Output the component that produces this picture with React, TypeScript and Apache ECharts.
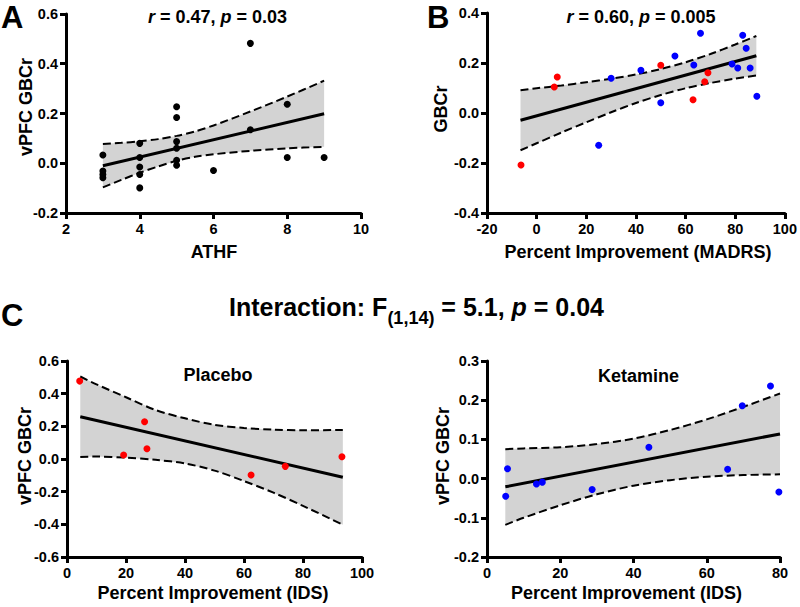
import React, { useEffect, useRef } from "react";
import * as echarts from "echarts";

// ---------- Data ----------
// Panel A: ATHF vs vPFC GBCr
const A_X = [3, 3, 3, 3, 4, 4, 4, 4, 4, 5, 5, 5, 5, 5, 5, 6, 7, 7, 8, 8, 9];
const A_Y = [0.033, -0.031, -0.045, -0.058, 0.08, 0.023, -0.015, -0.045, -0.099, 0.227, 0.184, 0.087, 0.06, 0.012, -0.008, -0.029, 0.482, 0.135, 0.237, 0.023, 0.023];
const A_FIT_X = [3, 9];
const A_FIT_Y = [-0.01, 0.199];
const A_BAND_X = [3, 3.5, 4, 4.5, 5, 5.5, 6, 7, 8, 9];
const A_BAND_HI = [0.077, 0.082, 0.088, 0.097, 0.11, 0.128, 0.152, 0.208, 0.268, 0.332];
const A_BAND_LO = [-0.097, -0.067, -0.038, -0.013, 0.01, 0.026, 0.036, 0.05, 0.06, 0.066];

// Panel B: Percent Improvement (MADRS) vs GBCr
const B_RED_X = [-6.3, 7.1, 8.3, 50, 63, 67.7, 69];
const B_RED_Y = [-0.208, 0.104, 0.144, 0.191, 0.053, 0.125, 0.161];
const B_BLUE_X = [25, 30, 42, 50, 55.7, 63.3, 66, 78.7, 81, 83, 84.4, 86, 88.7];
const B_BLUE_Y = [-0.129, 0.139, 0.171, 0.041, 0.228, 0.192, 0.319, 0.196, 0.18, 0.311, 0.259, 0.18, 0.067];
const B_FIT_X = [-6.5, 88.5];
const B_FIT_Y = [-0.029, 0.229];
const B_BAND_X = [-6.5, 0, 10, 20, 30, 40, 50, 60, 70, 80, 88.5];
const B_BAND_HI = [0.091, 0.099, 0.11, 0.123, 0.137, 0.154, 0.176, 0.203, 0.236, 0.274, 0.308];
const B_BAND_LO = [-0.149, -0.121, -0.078, -0.037, 0.003, 0.04, 0.072, 0.099, 0.12, 0.138, 0.15];

// Panel C left: Placebo
const P_X = [4.3, 19.2, 26.3, 27.1, 62.4, 74, 93.2];
const P_Y = [0.477, 0.024, 0.228, 0.063, -0.098, -0.045, 0.014];
const P_FIT_X = [4.5, 93.5];
const P_FIT_Y = [0.259, -0.112];
const P_BAND_X = [4.5, 10, 20, 30, 40, 50, 60, 70, 80, 93.5];
const P_BAND_HI = [0.505, 0.457, 0.378, 0.3, 0.249, 0.209, 0.19, 0.18, 0.176, 0.178];
const P_BAND_LO = [0.013, 0.015, 0.008, -0.005, -0.027, -0.071, -0.135, -0.206, -0.287, -0.402];

// Panel C right: Ketamine
const K_X = [5.1, 5.6, 13.5, 15.1, 28.7, 44.2, 65.7, 69.7, 77.4, 79.7];
const K_Y = [-0.045, 0.025, -0.014, -0.009, -0.028, 0.08, 0.024, 0.186, 0.236, -0.034];
const K_FIT_X = [5, 80];
const K_FIT_Y = [-0.021, 0.114];
const K_BAND_X = [5, 10, 20, 30, 40, 50, 60, 70, 80];
const K_BAND_HI = [0.075, 0.077, 0.08, 0.088, 0.102, 0.124, 0.151, 0.183, 0.217];
const K_BAND_LO = [-0.118, -0.1, -0.068, -0.04, -0.018, -0.004, 0.005, 0.009, 0.011];

// Axis ranges [min, max, interval]
const A_XR = [2, 10, 2];
const A_YR = [-0.2, 0.6, 0.2];
const B_XR = [-20, 100, 20];
const B_YR = [-0.4, 0.4, 0.2];
const P_XR = [0, 100, 20];
const P_YR = [-0.6, 0.6, 0.2];
const K_XR = [0, 80, 20];
const K_YR = [-0.2, 0.3, 0.1];

const FONT = '"Liberation Sans", Arial, Helvetica, sans-serif';
const RED = "#ff0000";
const BLUE = "#0000ff";
const BAND = "#d3d3d3";
const TICK_FONT = 14.5;

const zip = (xs: number[], ys: number[]) => xs.map((x, i) => [x, ys[i]]);

function mkX(g: number, r: number[]) {
  return {
    gridIndex: g, type: "value", min: r[0], max: r[1], interval: r[2],
    axisLine: { onZero: false, lineStyle: { color: "#000", width: 3 } },
    axisTick: { length: 6, lineStyle: { color: "#000", width: 3 } },
    axisLabel: { color: "#000", fontSize: TICK_FONT, fontWeight: "bold", fontFamily: FONT, margin: 8,
      formatter: (v: number) => String(Math.round(v)) },
    splitLine: { show: false },
  };
}
function mkY(g: number, r: number[]) {
  return {
    gridIndex: g, type: "value", min: r[0], max: r[1], interval: r[2],
    axisLine: { show: true, onZero: false, lineStyle: { color: "#000", width: 3 } },
    axisTick: { show: true, length: 6, lineStyle: { color: "#000", width: 3 } },
    axisLabel: { color: "#000", fontSize: TICK_FONT, fontWeight: "bold", fontFamily: FONT, margin: 8,
      formatter: (v: number) => v.toFixed(1) },
    splitLine: { show: false },
  };
}
function scatter(g: number, xs: number[], ys: number[], color: string) {
  return { type: "scatter", xAxisIndex: g, yAxisIndex: g, data: zip(xs, ys), symbolSize: 7,
    itemStyle: { color, opacity: 1 }, z: 6 };
}
function fit(g: number, xs: number[], ys: number[]) {
  return { type: "line", xAxisIndex: g, yAxisIndex: g, data: zip(xs, ys), symbol: "none",
    lineStyle: { color: "#000", width: 3 }, z: 5 };
}
function dashed(g: number, xs: number[], ys: number[]) {
  return { type: "line", xAxisIndex: g, yAxisIndex: g, data: zip(xs, ys), symbol: "none", smooth: 0.3,
    lineStyle: { color: "#000", width: 2, type: [8, 4] }, z: 4 };
}
function band(g: number, xs: number[], hi: number[], lo: number[]) {
  return {
    type: "custom", xAxisIndex: g, yAxisIndex: g, data: [[xs[0], hi[0]]], z: 1, silent: true,
    renderItem: (_p: any, api: any) => {
      const pts: number[][] = [];
      for (let i = 0; i < xs.length; i++) pts.push(api.coord([xs[i], hi[i]]));
      for (let i = xs.length - 1; i >= 0; i--) pts.push(api.coord([xs[i], lo[i]]));
      return { type: "polygon", shape: { points: pts }, style: { fill: BAND, stroke: "none" } };
    },
  };
}

function txt(text: string, x: number, y: number, size: number, opts: any = {}) {
  return {
    type: "text", x, y, rotation: opts.rotation || 0,
    style: { text, fill: "#000", font: `${opts.italic ? "italic " : ""}bold ${size}px ${FONT}`,
      align: opts.align || "center", verticalAlign: "middle" },
  };
}
function statText(r: string, p: string, cx: number, cy: number) {
  return {
    type: "text", x: cx, y: cy,
    style: {
      text: `{i|r}{n| = ${r}, }{i|p}{n| = ${p}}`, align: "center", verticalAlign: "middle",
      rich: {
        i: { fontStyle: "italic", fontWeight: "bold", fontSize: 18, fontFamily: FONT, fill: "#000" },
        n: { fontWeight: "bold", fontSize: 18, fontFamily: FONT, fill: "#000" },
      },
    },
  };
}

function interactionTitle(cx: number, cy: number) {
  const main = `bold 25px ${FONT}`;
  const mainI = `italic bold 25px ${FONT}`;
  const sub = `bold 18px ${FONT}`;
  const parts = [
    { t: "Interaction: F", f: main, dy: 0 },
    { t: "(1,14)", f: sub, dy: 11 },
    { t: " = 5.1, ", f: main, dy: 0 },
    { t: "p", f: mainI, dy: 0 },
    { t: " = 0.04", f: main, dy: 0 },
  ];
  const ctx = document.createElement("canvas").getContext("2d")!;
  const widths = parts.map((p) => { ctx.font = p.f; return ctx.measureText(p.t).width; });
  const total = widths.reduce((a, b) => a + b, 0);
  let x = cx - total / 2;
  return parts.map((p, i) => {
    const el = { type: "text", x, y: cy + p.dy,
      style: { text: p.t, font: p.f, fill: "#000", align: "left", verticalAlign: "middle" } };
    x += widths[i];
    return el;
  });
}

export default function App() {
  const ref = useRef<HTMLDivElement>(null);
  useEffect(() => {
    if (!ref.current) return;
    const chart = echarts.init(ref.current, null, { renderer: "svg" });
    const option: any = {
      animation: false,
      backgroundColor: "#fff",
      grid: [
        { left: 66, top: 14, width: 295, height: 199 },
        { left: 487, top: 13, width: 300, height: 200 },
        { left: 67, top: 361, width: 295, height: 196 },
        { left: 487, top: 361, width: 293, height: 196 },
      ],
      xAxis: [mkX(0, A_XR), mkX(1, B_XR), mkX(2, P_XR), mkX(3, K_XR)],
      yAxis: [mkY(0, A_YR), mkY(1, B_YR), mkY(2, P_YR), mkY(3, K_YR)],
      series: [
        band(0, A_BAND_X, A_BAND_HI, A_BAND_LO),
        dashed(0, A_BAND_X, A_BAND_HI), dashed(0, A_BAND_X, A_BAND_LO),
        fit(0, A_FIT_X, A_FIT_Y),
        scatter(0, A_X, A_Y, "#000"),

        band(1, B_BAND_X, B_BAND_HI, B_BAND_LO),
        dashed(1, B_BAND_X, B_BAND_HI), dashed(1, B_BAND_X, B_BAND_LO),
        fit(1, B_FIT_X, B_FIT_Y),
        scatter(1, B_BLUE_X, B_BLUE_Y, BLUE),
        scatter(1, B_RED_X, B_RED_Y, RED),

        band(2, P_BAND_X, P_BAND_HI, P_BAND_LO),
        dashed(2, P_BAND_X, P_BAND_HI), dashed(2, P_BAND_X, P_BAND_LO),
        fit(2, P_FIT_X, P_FIT_Y),
        scatter(2, P_X, P_Y, RED),

        band(3, K_BAND_X, K_BAND_HI, K_BAND_LO),
        dashed(3, K_BAND_X, K_BAND_HI), dashed(3, K_BAND_X, K_BAND_LO),
        fit(3, K_FIT_X, K_FIT_Y),
        scatter(3, K_X, K_Y, BLUE),
      ],
      graphic: [
        txt("A", 1, 17, 31, { align: "left" }),
        txt("B", 427, 17, 31, { align: "left" }),
        txt("C", 1, 315, 31, { align: "left" }),
        statText("0.47", "0.03", 217.5, 17),
        statText("0.60", "0.005", 641, 17),
        txt("ATHF", 214, 252, 18),
        txt("vPFC GBCr", 25.5, 107, 18, { rotation: Math.PI / 2 }),
        txt("Percent Improvement (MADRS)", 638, 252, 18),
        txt("GBCr", 441, 109, 18, { rotation: Math.PI / 2 }),
        txt("Placebo", 218, 375, 18),
        txt("Ketamine", 638.5, 376, 18),
        txt("vPFC GBCr", 25, 456, 18, { rotation: Math.PI / 2 }),
        txt("vPFC GBCr", 443, 456, 18, { rotation: Math.PI / 2 }),
        txt("Percent Improvement (IDS)", 213, 593, 18),
        txt("Percent Improvement (IDS)", 626.5, 593, 18),
        ...interactionTitle(416.5, 306.5),
      ],
    };
    chart.setOption(option);
    return () => chart.dispose();
  }, []);
  return (
    <div
      ref={ref}
      style={{ position: "absolute", left: 0, top: 0, width: 800, height: 607, background: "#fff" }}
    />
  );
}
